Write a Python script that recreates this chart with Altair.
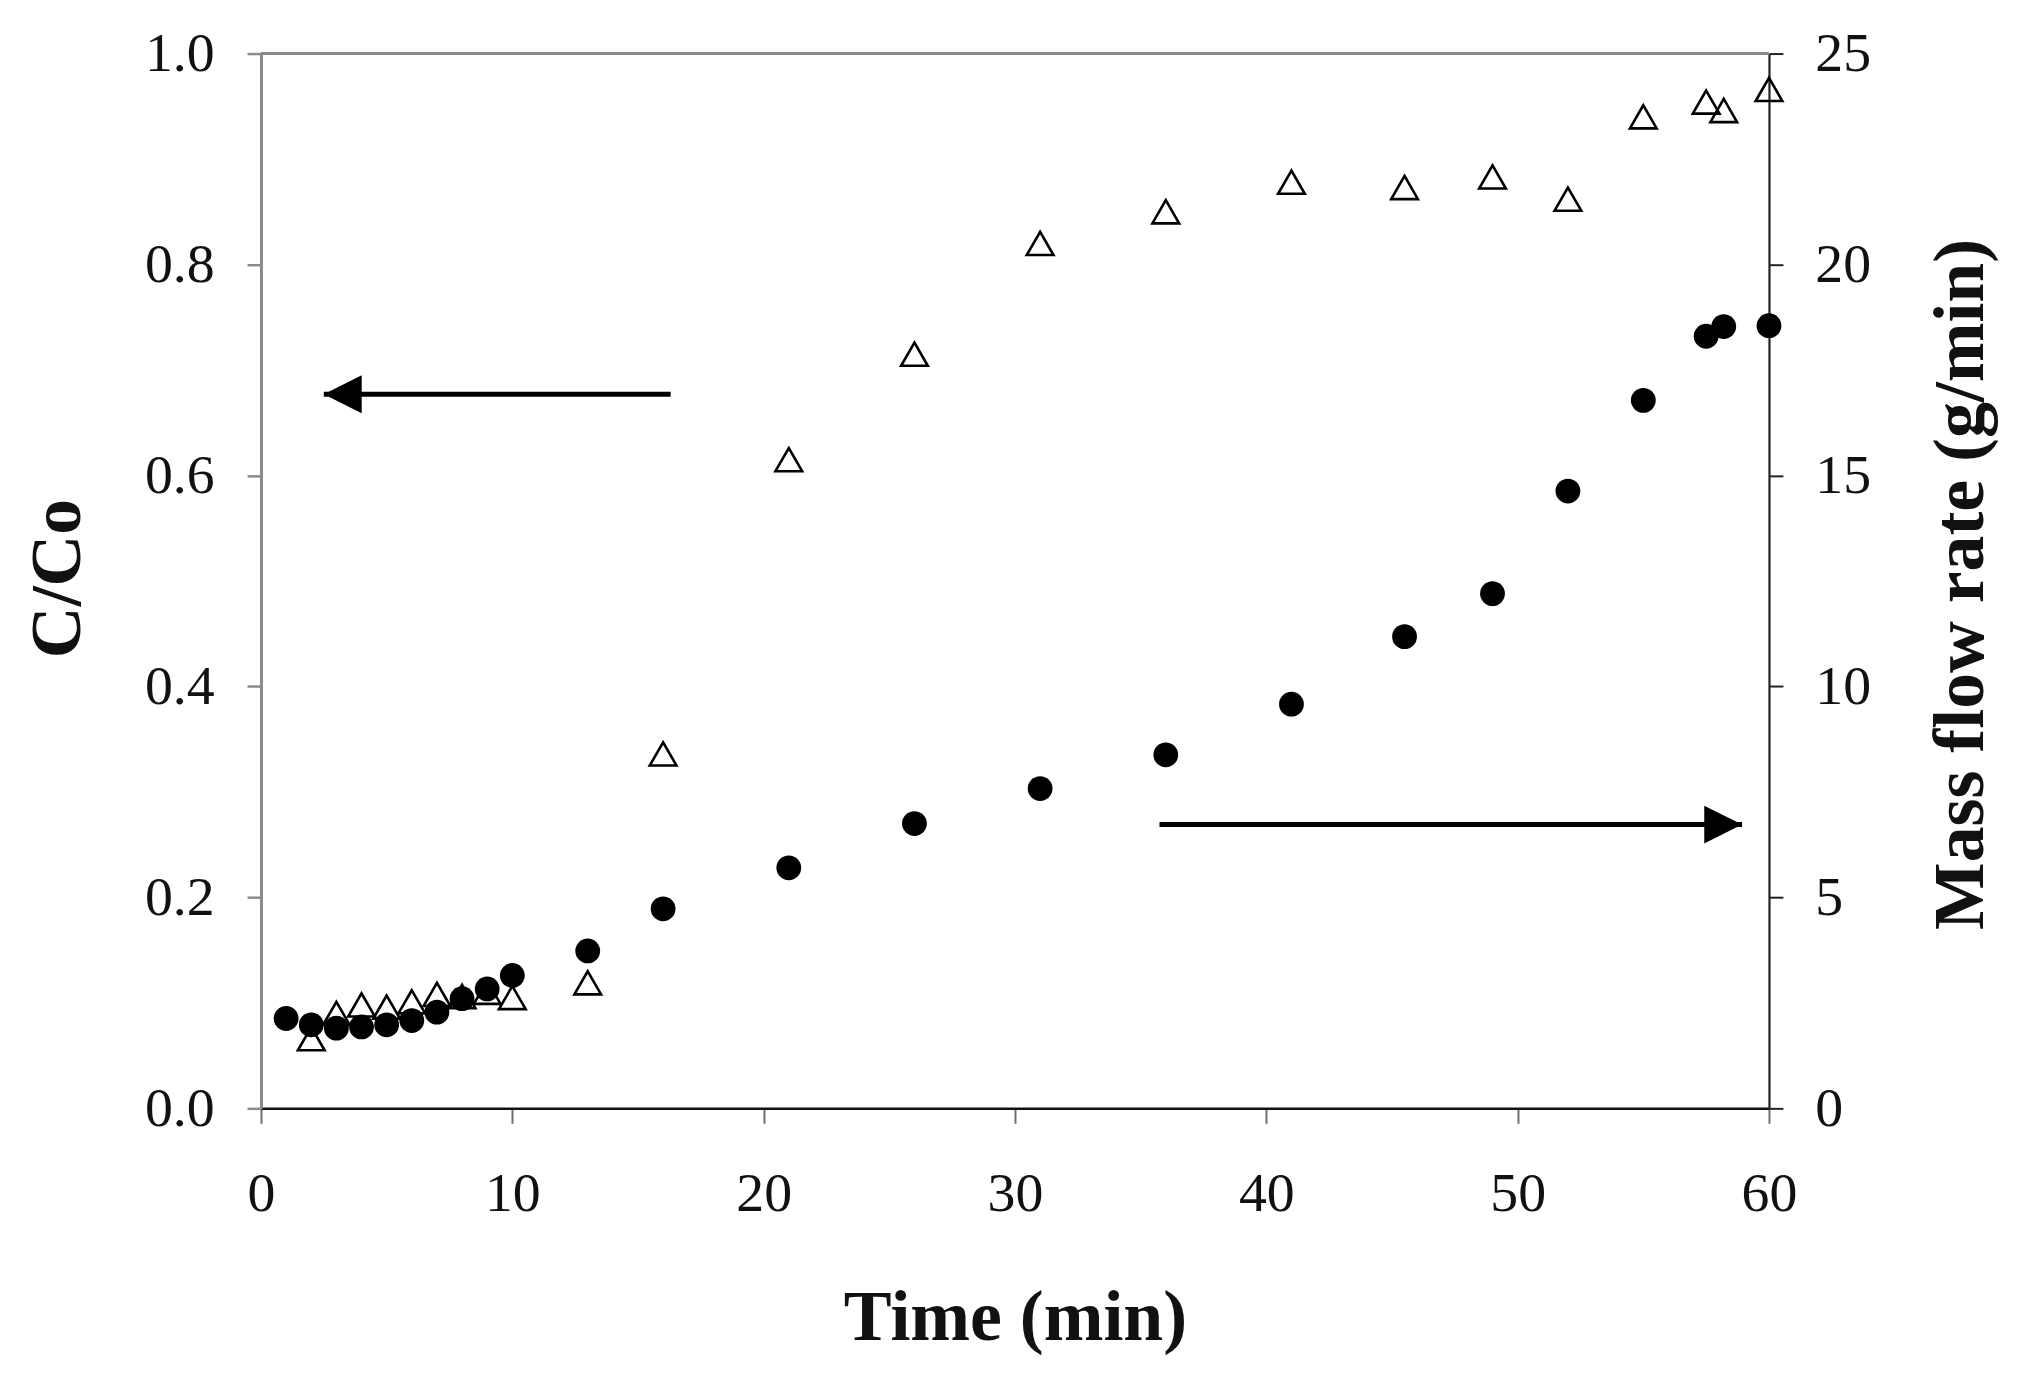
import altair as alt
import pandas as pd

# ---- data ----
time_tri = [2, 3, 4, 5, 6, 7, 8, 9, 10, 13, 16, 21, 26, 31, 36, 41, 45.5, 49, 52, 55, 57.5, 58.2, 60]
cco = [0.066, 0.090, 0.098, 0.096, 0.101, 0.108, 0.106, 0.110, 0.105, 0.119, 0.336, 0.615,
       0.715, 0.820, 0.850, 0.878, 0.873, 0.883, 0.862, 0.940, 0.954, 0.946, 0.966]
time_circ = [1, 2, 3, 4, 5, 6, 7, 8, 9, 10, 13, 16, 21, 26, 31, 36, 41, 45.5, 49, 52, 55, 57.5, 58.2, 60]
mass_flow = [2.13, 1.98, 1.90, 1.93, 1.98, 2.08, 2.28, 2.60, 2.83, 3.15, 3.73, 4.73, 5.70,
             6.75, 7.58, 8.38, 9.58, 11.18, 12.20, 14.63, 16.78, 18.30, 18.53, 18.55]
x_ticks = [0, 10, 20, 30, 40, 50, 60]
left_ticks = [0.0, 0.2, 0.4, 0.6, 0.8, 1.0]
right_ticks = [0, 5, 10, 15, 20, 25]
top_border = [1.0]
arrow_tail = [16.3, 35.75]
arrow_tip = [2.5, 58.93]
arrow_y = [0.677, 0.269]
arrow_head = ["M0,0L2,-1L2,1Z", "M0,0L-2,-1L-2,1Z"]

tri_df = pd.DataFrame({"t": time_tri, "cco": cco})
circ_df = pd.DataFrame({"t": time_circ, "mf": mass_flow})
arrow_df = pd.DataFrame({"tail": arrow_tail, "tip": arrow_tip, "cco": arrow_y, "head": arrow_head})
top_df = pd.DataFrame({"cco": top_border})

FONT = "Liberation Serif"
W, H = 1514, 1059

x_scale = alt.Scale(domain=[0, 60], nice=False)
x_axis = alt.Axis(
    title="Time (min)", values=x_ticks, grid=False, format="d", labelFlush=False,
    tickSize=15, tickWidth=2, tickColor="#6e6e6e",
    domainColor="#111111", domainWidth=2.5,
    labelFont=FONT, labelFontSize=56, labelColor="#111111", labelPadding=44,
    titleFont=FONT, titleFontSize=72, titleFontWeight="bold", titleColor="#111111",
    titleY=210, titleBaseline="middle",
)
yl_scale = alt.Scale(domain=[0, 1], nice=False)
yl_axis = alt.Axis(
    title="C/Co", values=left_ticks, format=".1f", grid=False, labelFlush=False,
    tickSize=14, tickWidth=2.5, tickColor="#8a8a8a",
    domainColor="#8a8a8a", domainWidth=3,
    labelFont=FONT, labelFontSize=56, labelColor="#111111", labelPadding=33,
    titleFont=FONT, titleFontSize=72, titleFontWeight="bold", titleColor="#111111",
    titleAngle=270, titleX=-204, titleY=H / 2 - 3, titleBaseline="middle", titleAlign="center",
)
yr_scale = alt.Scale(domain=[0, 25], nice=False)
yr_axis = alt.Axis(
    title="Mass flow rate (g/min)", orient="right", values=right_ticks, format="d", grid=False,
    labelFlush=False,
    tickSize=14, tickWidth=2, tickColor="#222222",
    domainColor="#222222", domainWidth=2.2,
    labelFont=FONT, labelFontSize=56, labelColor="#111111", labelPadding=32,
    titleFont=FONT, titleFontSize=72, titleFontWeight="bold", titleColor="#111111",
    titleAngle=270, titleX=192, titleY=H / 2 + 3, titleBaseline="middle", titleAlign="center",
)

top_line = alt.Chart(top_df).mark_rule(color="#8a8a8a", strokeWidth=3).encode(
    y=alt.Y("cco:Q", scale=yl_scale, axis=yl_axis)
)

triangles = alt.Chart(tri_df).mark_point(
    shape="triangle-up", filled=False, stroke="black", strokeWidth=2.6, size=720, opacity=1
).encode(
    x=alt.X("t:Q", scale=x_scale, axis=x_axis),
    y=alt.Y("cco:Q", scale=yl_scale, axis=yl_axis),
)

arrow_lines = alt.Chart(arrow_df).mark_rule(color="black", strokeWidth=5).encode(
    x=alt.X("tail:Q", scale=x_scale, axis=x_axis),
    x2="tip:Q",
    y=alt.Y("cco:Q", scale=yl_scale, axis=yl_axis),
)

arrow_heads = alt.Chart(arrow_df).mark_point(
    filled=True, color="black", size=1444, opacity=1, strokeWidth=0
).encode(
    x=alt.X("tip:Q", scale=x_scale, axis=x_axis),
    y=alt.Y("cco:Q", scale=yl_scale, axis=yl_axis),
    shape=alt.Shape("head:N", scale=None),
)

left_layer = alt.layer(top_line, triangles, arrow_lines, arrow_heads)

circles = alt.Chart(circ_df).mark_circle(color="black", size=620, opacity=1).encode(
    x=alt.X("t:Q", scale=x_scale, axis=x_axis),
    y=alt.Y("mf:Q", scale=yr_scale, axis=yr_axis),
)

chart = alt.layer(left_layer, circles).resolve_scale(y="independent").properties(
    width=W, height=H,
    autosize=alt.AutoSizeParams(type="none"),
    padding={"left": 254, "top": 43, "right": 245, "bottom": 269},
    background="white",
).configure_view(strokeWidth=0)

chart.save("out.html", embed_options={"renderer": "svg", "actions": False})
